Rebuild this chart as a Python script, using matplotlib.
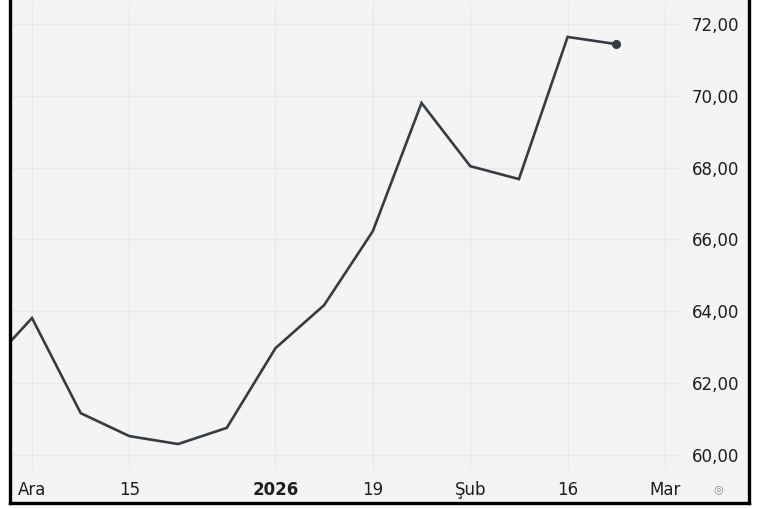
import pandas as pd
import matplotlib
matplotlib.use("Agg")
import matplotlib.pyplot as plt
import matplotlib.dates as mdates
from matplotlib.lines import Line2D
from matplotlib.patches import Rectangle

# weekly closes
dates = ["2025-11-24", "2025-12-01", "2025-12-08", "2025-12-15", "2025-12-22",
         "2025-12-29", "2026-01-05", "2026-01-12", "2026-01-19", "2026-01-26",
         "2026-02-02", "2026-02-09", "2026-02-16", "2026-02-23"]
values = [62.33, 63.81, 61.16, 60.52, 60.30, 60.75, 62.97, 64.17, 66.23,
          69.80, 68.04, 67.68, 71.64, 71.44]

tick_dates = ["2025-12-01", "2025-12-15", "2026-01-05", "2026-01-19",
              "2026-02-02", "2026-02-16", "2026-03-02"]
tick_labels = ["Ara", "15", "2026", "19", "Şub", "16", "Mar"]
y_ticks = [60, 62, 64, 66, 68, 70, 72]

W, H = 760, 509
fig = plt.figure(figsize=(W / 100, H / 100), dpi=100)
fig.patch.set_facecolor("white")

# panel background + frame
bg = "#f4f4f4"
fig.patches.append(Rectangle((9 / W, 1 - 503 / H), 741 / W, 503 / H,
                             transform=fig.transFigure, facecolor=bg,
                             edgecolor="none", zorder=-1))
for xs, ys in [([9.5, 9.5], [0, 503]), ([749, 749], [0, 503]), ([9.5, 749], [503, 503])]:
    fig.lines.append(Line2D([x / W for x in xs], [1 - y / H for y in ys],
                            transform=fig.transFigure, color="black", lw=2.4,
                            solid_capstyle="projecting", zorder=5))

ax = fig.add_axes([11 / W, 1 - 470 / H, 671 / W, 468 / H])
ax.set_facecolor(bg)

x = pd.to_datetime(dates)
line_color = "#363c44"
ax.plot(x, values, color=line_color, lw=1.9, solid_joinstyle="miter", zorder=3)
ax.plot(x[-1:], values[-1:], "o", color=line_color, ms=5.5, zorder=4)

d0 = mdates.date2num(pd.Timestamp("2025-12-01"))
ax.set_xlim(d0 - 21 / 6.956, d0 + 650 / 6.956)
ax.set_ylim(72 - 468 / 35.9 + 22 / 35.9, 72 + 22 / 35.9)

ax.set_xticks(pd.to_datetime(tick_dates))
ax.set_xticklabels(tick_labels)
for lab in ax.get_xticklabels():
    if lab.get_text() == "2026":
        lab.set_fontweight("bold")
ax.set_yticks(y_ticks)
ax.set_yticklabels([f"{v:.2f}".replace(".", ",") for v in y_ticks])

ax.yaxis.tick_right()
ax.tick_params(axis="both", length=0, labelsize=12, labelcolor="#1e1e1e")
ax.tick_params(axis="x", pad=8)
ax.tick_params(axis="y", pad=7)
ax.grid(True, color="#e9e9e9", lw=1)
ax.set_axisbelow(True)
for s in ax.spines.values():
    s.set_visible(False)

fig.text(718 / W, 1 - 489 / H, "◎", ha="center", va="center",
         fontsize=8, color="#8a8a8a")

fig.savefig("out.png", dpi=100, facecolor=fig.get_facecolor())
